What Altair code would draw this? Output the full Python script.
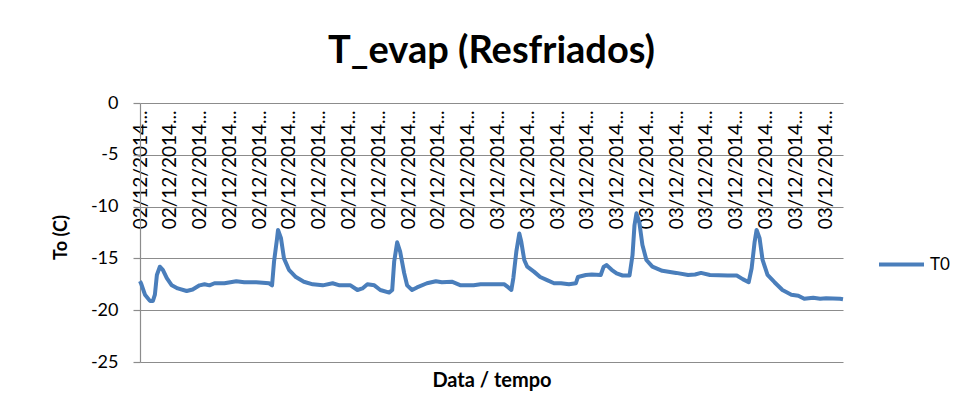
import altair as alt
import pandas as pd

# sample index along the time axis and evaporator temperature T0 (C)
sample_idx = [0, 1, 5, 10, 13, 15, 17, 20, 23, 27, 32, 38, 47, 53, 60, 65, 70, 75, 85, 97,
              105, 117, 130, 133, 135, 138, 139, 142, 145, 150, 157, 165, 174, 184, 194, 201,
              207, 212, 219, 224, 229, 236, 242, 251, 254, 256, 259, 262, 266, 269, 274, 279,
              289, 298, 304, 314, 323, 336, 343, 355, 367, 371, 374, 376, 379, 382, 384, 387,
              390, 397, 403, 410, 417, 424, 432, 439, 441, 449, 455, 464, 467, 470, 475, 480,
              486, 493, 496, 498, 500, 503, 506, 510, 516, 526, 540, 552, 559, 565, 574, 592,
              601, 607, 613, 616, 619, 621, 624, 627, 632, 639, 647, 656, 663, 669, 678, 685,
              691, 705, 708]
t0 = [-17.2, -17.4, -18.5, -19.1, -19.1, -18.5, -16.6, -15.8, -16.1, -16.9, -17.6, -17.9,
      -18.15, -18.0, -17.6, -17.5, -17.6, -17.4, -17.4, -17.2, -17.3, -17.3, -17.4, -17.6,
      -15.3, -13.1, -12.25, -13.05, -15.0, -16.1, -16.8, -17.25, -17.5, -17.6, -17.4, -17.6,
      -17.6, -17.6, -18.05, -17.9, -17.5, -17.6, -18.05, -18.3, -18.05, -15.3, -13.45, -14.35,
      -16.4, -17.6, -18.05, -17.8, -17.4, -17.2, -17.3, -17.25, -17.6, -17.6, -17.5, -17.5,
      -17.5, -17.8, -18.05, -16.9, -14.35, -12.6, -13.4, -15.15, -15.8, -16.3, -16.8, -17.1,
      -17.4, -17.4, -17.5, -17.4, -16.8, -16.6, -16.55, -16.6, -15.8, -15.65, -16.1, -16.45,
      -16.65, -16.65, -14.7, -11.8, -10.65, -11.6, -13.7, -15.15, -15.8, -16.2, -16.4, -16.6,
      -16.55, -16.4, -16.6, -16.65, -16.65, -17.0, -17.3, -15.95, -13.4, -12.25, -13.05,
      -15.15, -16.6, -17.3, -18.05, -18.5, -18.6, -18.9, -18.8, -18.9, -18.85, -18.9, -18.95]
series_name = ["T0"]

tick_values = [i * 30 for i in range(24)]
tick_labels = ["02/12/2014..."] * 12 + ["03/12/2014..."] * 12
y_ticks = [0, -5, -10, -15, -20, -25]
y_labels = ["0", "-5", "-10", "-15", "-20", "-25"]

df = pd.DataFrame({"idx": sample_idx, "temp": t0, "serie": series_name * len(sample_idx)})


def lookup_expr(labels, values):
    return ("[" + ",".join("'" + s + "'" for s in labels) + "][indexof(["
            + ",".join(str(v) for v in values) + "], datum.value)]")


FONT = "Lato"
GRID = "#8c8c8c"

chart = alt.Chart(df).mark_line(strokeWidth=4, strokeJoin="round").encode(
    x=alt.X("idx:Q",
            scale=alt.Scale(domain=[0, 708], nice=False, zero=False),
            axis=alt.Axis(values=tick_values, labelExpr=lookup_expr(tick_labels, tick_values),
                          labelAngle=-90, labelAlign="right", labelBaseline="middle",
                          labelPadding=-252, ticks=False, tickSize=0, domain=False,
                          grid=False, labelFont=FONT, labelFontSize=19, labelColor="black",
                          labelOverlap=False, labelBound=False, labelFlush=False,
                          title="Data / tempo", titleFont=FONT, titleFontSize=20,
                          titleFontWeight="bold", titleColor="black", titleY=8,
                          titleBaseline="top")),
    y=alt.Y("temp:Q",
            scale=alt.Scale(domain=[-25, 0], nice=False),
            axis=alt.Axis(values=y_ticks, labelExpr=lookup_expr(y_labels, y_ticks),
                          grid=True, gridColor=GRID, gridWidth=1.2,
                          domain=True, domainColor=GRID, domainWidth=1.2,
                          ticks=True, tickSize=7, tickColor=GRID, tickWidth=1.2,
                          labelPadding=15, labelFont=FONT, labelFontSize=18,
                          labelColor="black",
                          title="To (C)", titleFont=FONT, titleFontSize=18,
                          titleFontWeight="bold", titleColor="black",
                          titleX=-70, titleY=134, titleBaseline="bottom",
                          titleAlign="center")),
    color=alt.Color("serie:N",
                    scale=alt.Scale(domain=series_name, range=["#4A7EBB"]),
                    legend=alt.Legend(title=None, orient="none", legendX=737, legendY=137,
                                      symbolType="stroke", symbolSize=2025,
                                      symbolStrokeWidth=4, labelFont=FONT,
                                      labelFontSize=17, labelColor="black",
                                      labelOffset=4, padding=0)),
).properties(
    width=703,
    height=259,
    title=alt.Title("T_evap (Resfriados)", font=FONT, fontSize=38, fontWeight="bold",
                    color="black", anchor="middle", baseline="alphabetic", offset=0, dy=7),
    autosize=alt.AutoSizeParams(type="none"),
    padding={"left": 132, "top": 95, "right": 119, "bottom": 50},
    background="white",
).configure_view(stroke=None)

chart.save("out.html", embed_options={"renderer": "svg", "actions": False})
